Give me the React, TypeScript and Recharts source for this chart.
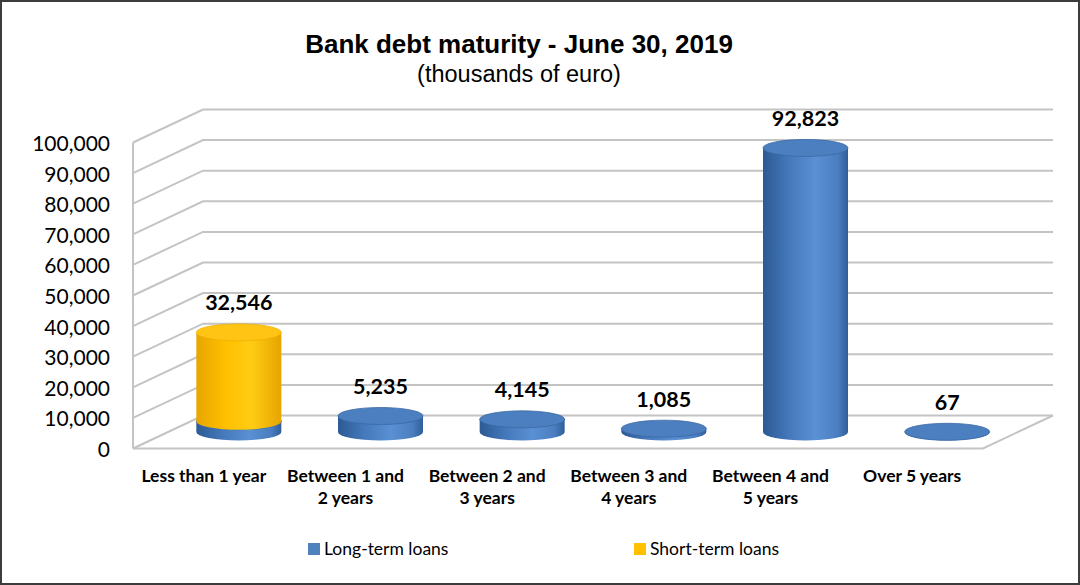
import React from 'react'
import { BarChart, Bar, XAxis, YAxis, CartesianGrid, LabelList } from 'recharts'

const categories = [
  'Less than 1 year',
  'Between 1 and 2 years',
  'Between 2 and 3 years',
  'Between 3 and 4 years',
  'Between 4 and 5 years',
  'Over 5 years',
]
const longTermLoans = [3500, 5235, 4145, 1085, 92823, 67]
const shortTermLoans = [29046, 0, 0, 0, 0, 0]
const yTicks = [0, 10000, 20000, 30000, 40000, 50000, 60000, 70000, 80000, 90000, 100000]

const data = categories.map((name, i) => ({
  name,
  longTerm: longTermLoans[i],
  shortTerm: shortTermLoans[i],
  total: longTermLoans[i] + shortTermLoans[i],
}))

// plot box is the middle of the 3d depth; front and back are offset from it
const W = 1080
const H = 585
const PLOT_LEFT = 168
const PLOT_RIGHT = 1018
const PLOT_TOP = 126
const PLOT_BOTTOM = 432
const DX = 35
const DY = 16.5
const FONT = 'Lato, "Open Sans", sans-serif'
const GRID = '#c4c4c4'

const fmt = (v: number) => v.toLocaleString('en-US')

function gridLine(p: any) {
  const y = p.y1
  const fy = y + DY
  const by = y - DY
  const isFloor = Math.abs(y - PLOT_BOTTOM) < 1
  return (
    <g>
      <polyline
        points={`${PLOT_LEFT - DX},${fy} ${PLOT_LEFT + DX},${by} ${PLOT_RIGHT + DX},${by}`}
        fill="none"
        stroke={GRID}
        strokeWidth={2}
      />
      {isFloor && (
        <>
          <polyline
            points={`${PLOT_LEFT - DX},${fy} ${PLOT_RIGHT - DX},${fy} ${PLOT_RIGHT + DX},${by}`}
            fill="none"
            stroke={GRID}
            strokeWidth={2}
          />
          <line x1={PLOT_LEFT - DX} y1={fy} x2={PLOT_LEFT - DX} y2={PLOT_TOP + DY} stroke={GRID} strokeWidth={2} />
        </>
      )}
    </g>
  )
}

function cylinder(kind: 'long' | 'short') {
  return (props: any) => {
    const { x, y, width, height } = props
    if (kind === 'short' && !(height > 0)) return <g />
    const rx = width / 2
    const ry = 8.5
    const top = y
    const bot = y + Math.max(height, 0)
    const body = kind === 'long' ? 'url(#blueBody)' : 'url(#yellowBody)'
    const cap = kind === 'long' ? '#4c7fc0' : '#ffc414'
    const edge = kind === 'long' ? '#3a68a3' : '#f0b000'
    return (
      <g>
        <path
          d={`M${x},${top} L${x},${bot} A${rx},${ry} 0 0 0 ${x + width},${bot} L${x + width},${top} Z`}
          fill={body}
        />
        <ellipse cx={x + rx} cy={top} rx={rx} ry={ry} fill={cap} stroke={edge} strokeWidth={0.8} />
      </g>
    )
  }
}

function YTick(props: any) {
  const { y, payload } = props
  return (
    <text x={PLOT_LEFT - DX - 23} y={y + DY} textAnchor="end" dominantBaseline="central" fontFamily={FONT} fontSize={21} fill="#000">
      {fmt(payload.value)}
    </text>
  )
}

function XTick(props: any) {
  const { x, payload } = props
  const lines = String(payload.value).replace(' and ', ' and\n').split('\n')
  return (
    <text x={x - DX} y={475} textAnchor="middle" fontFamily={FONT} fontSize={17.5} fontWeight="bold" fill="#000">
      {lines.map((l, i) => (
        <tspan key={i} x={x - DX} dy={i === 0 ? 0 : 22} dominantBaseline="central">
          {l}
        </tspan>
      ))}
    </text>
  )
}

function TotalLabel(props: any) {
  const { x, y, width, index } = props
  return (
    <text x={x + width / 2} y={y - 30} textAnchor="middle" dominantBaseline="central" fontFamily={FONT} fontSize={21.5} fontWeight="bold" fill="#000">
      {fmt(data[index].total)}
    </text>
  )
}

export default function App() {
  return (
    <div
      style={{
        position: 'absolute',
        left: 0,
        top: 0,
        width: W,
        height: H,
        boxSizing: 'border-box',
        border: '2px solid #3c3c3c',
        background: '#fff',
        fontFamily: FONT,
      }}
    >
      <div style={{ position: 'absolute', left: 0, top: 27, width: 1034, textAlign: 'center', fontFamily: '"Liberation Sans", Arial, sans-serif', fontWeight: 'bold', fontSize: 26, lineHeight: '30px' }}>
        Bank debt maturity - June 30, 2019
      </div>
      <div style={{ position: 'absolute', left: 0, top: 58, width: 1034, textAlign: 'center', fontFamily: '"Liberation Sans", Arial, sans-serif', fontSize: 23.5, lineHeight: '28px' }}>
        (thousands of euro)
      </div>
      <div style={{ position: 'absolute', left: -2, top: -2 }}>
        <BarChart
          width={W}
          height={H}
          data={data}
          margin={{ top: PLOT_TOP, right: W - PLOT_RIGHT, bottom: H - PLOT_BOTTOM - 60, left: PLOT_LEFT - 60 }}
          barCategoryGap="20%"
        >
          <defs>
            <linearGradient id="blueBody" x1="0" y1="0" x2="1" y2="0">
              <stop offset="0%" stopColor="#2c5a94" />
              <stop offset="30%" stopColor="#4478ba" />
              <stop offset="62%" stopColor="#5a90d4" />
              <stop offset="88%" stopColor="#4a7ec0" />
              <stop offset="100%" stopColor="#2f5e99" />
            </linearGradient>
            <linearGradient id="yellowBody" x1="0" y1="0" x2="1" y2="0">
              <stop offset="0%" stopColor="#e8a600" />
              <stop offset="35%" stopColor="#ffc000" />
              <stop offset="65%" stopColor="#ffcc14" />
              <stop offset="100%" stopColor="#e6a400" />
            </linearGradient>
          </defs>
          <CartesianGrid vertical={false} horizontal={gridLine} />
          <XAxis dataKey="name" height={60} axisLine={false} tickLine={false} interval={0} tick={<XTick />} />
          <YAxis width={60} domain={[0, 100000]} ticks={yTicks} axisLine={false} tickLine={false} tick={<YTick />} />
          <Bar dataKey="longTerm" name="Long-term loans" stackId="a" fill="#4f81bd" shape={cylinder('long')} isAnimationActive={false} />
          <Bar dataKey="shortTerm" name="Short-term loans" stackId="a" fill="#ffc000" shape={cylinder('short')} isAnimationActive={false}>
            <LabelList content={<TotalLabel />} />
          </Bar>
        </BarChart>
      </div>
      <div style={{ position: 'absolute', left: 306, top: 536, display: 'flex', alignItems: 'center', fontSize: 17.5 }}>
        <span style={{ width: 12, height: 12, background: '#4f81bd', marginRight: 4 }} />
        Long-term loans
      </div>
      <div style={{ position: 'absolute', left: 632, top: 536, display: 'flex', alignItems: 'center', fontSize: 17.5 }}>
        <span style={{ width: 12, height: 12, background: '#ffc000', marginRight: 4 }} />
        Short-term loans
      </div>
    </div>
  )
}
